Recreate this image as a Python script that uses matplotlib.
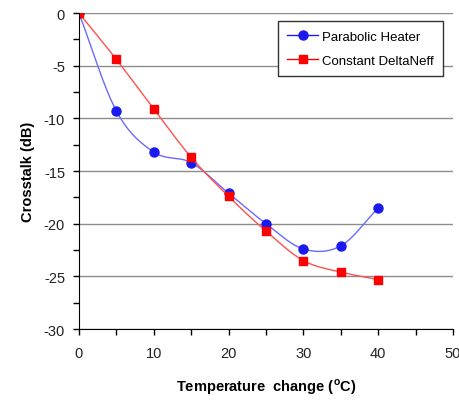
import numpy as np
import matplotlib
matplotlib.use('Agg')
import matplotlib.pyplot as plt
from matplotlib.ticker import MultipleLocator

plt.rcParams['font.family'] = ['Liberation Sans', 'DejaVu Sans']
plt.rcParams['axes.unicode_minus'] = False

temps = [0, 5, 10, 15, 20, 25, 30, 35, 40]
parabolic = [0, -9.3, -13.2, -14.2, -17.1, -20.0, -22.4, -22.1, -18.5]
constant = [0, -4.4, -9.1, -13.7, -17.4, -20.7, -23.5, -24.6, -25.3]


def smooth(x, y, n=20):
    """catmull-rom curve through the points, like excel's smoothed line"""
    x = np.asarray(x, float)
    y = np.asarray(y, float)
    px = np.concatenate(([2 * x[0] - x[1]], x, [2 * x[-1] - x[-2]]))
    py = np.concatenate(([2 * y[0] - y[1]], y, [2 * y[-1] - y[-2]]))
    t = np.linspace(0, 1, n)
    xs, ys = [], []
    for i in range(1, len(px) - 2):
        for p, out in ((px, xs), (py, ys)):
            p0, p1, p2, p3 = p[i - 1], p[i], p[i + 1], p[i + 2]
            out.extend(0.5 * (2 * p1 + (-p0 + p2) * t
                              + (2 * p0 - 5 * p1 + 4 * p2 - p3) * t ** 2
                              + (-p0 + 3 * p1 - 3 * p2 + p3) * t ** 3))
    return xs, ys


fig = plt.figure(figsize=(4.59, 4.02), dpi=100)
ax = fig.add_axes([0.172, 0.179, 0.815, 0.786])

ax.yaxis.grid(True, color='#8c8c8c', lw=1)
ax.set_axisbelow(True)

sx, sy = smooth(temps, parabolic)
ax.plot(sx, sy, color='#6a6aff', lw=1)
ax.plot(temps, parabolic, 'o', color='#1a1aee', ms=6.5, mec='#1a1aee')
sx, sy = smooth(temps, constant)
ax.plot(sx, sy, color='#ff5050', lw=1)
ax.plot(temps, constant, 's', color='#ff0000', ms=6, mec='#ff0000')

# legend proxies
ax.plot([], [], '-o', color='#1a1aee', ms=6.5, lw=1, label='Parabolic Heater')
ax.plot([], [], '-s', color='#ff0000', ms=6, lw=1, label='Constant DeltaNeff')
leg = ax.legend(handles=ax.lines[-2:], loc='upper right', bbox_to_anchor=(0.99, 0.995),
                fancybox=False, framealpha=1, edgecolor='#333333', fontsize=9.5,
                handlelength=2.3, borderpad=0.7, labelspacing=0.9, handletextpad=0.3)
leg.get_frame().set_linewidth(1)

ax.set_xlim(0, 50)
ax.set_ylim(-30, 0)
ax.xaxis.set_major_locator(MultipleLocator(10))
ax.xaxis.set_minor_locator(MultipleLocator(5))
ax.yaxis.set_major_locator(MultipleLocator(5))
ax.yaxis.set_minor_locator(MultipleLocator(2.5))
ax.tick_params(which='both', direction='out', length=4, width=1, labelsize=10.5,
               labelcolor='#222222')
ax.tick_params(axis='x', pad=8)
ax.tick_params(axis='y', pad=6)
ax.spines['top'].set_visible(False)
ax.spines['right'].set_visible(False)

ax.set_xlabel(r'Temperature  change ($^{\mathregular{o}}$C)', fontsize=10.5,
              fontweight='bold', labelpad=12)
ax.set_ylabel('Crosstalk (dB)', fontsize=10.5, fontweight='bold', labelpad=6)

fig.savefig('out.png', dpi=100)
